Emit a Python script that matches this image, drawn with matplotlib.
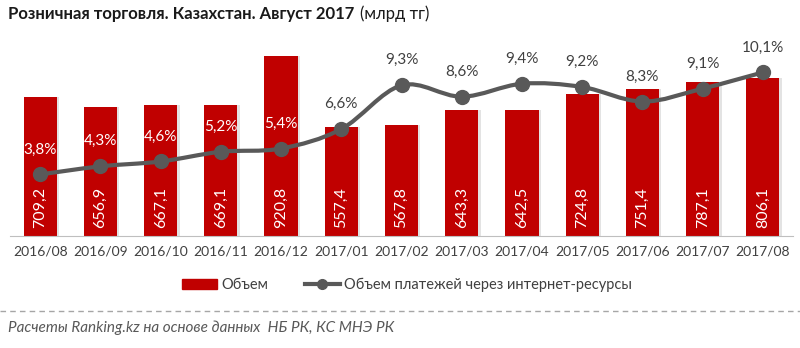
import numpy as np
import matplotlib
matplotlib.use("Agg")
import matplotlib.pyplot as plt
from matplotlib.path import Path
from matplotlib.patches import PathPatch, Patch
from matplotlib.lines import Line2D

plt.rcParams['font.family'] = ['Lato', 'DejaVu Sans']

months = ['2016/08', '2016/09', '2016/10', '2016/11', '2016/12', '2017/01', '2017/02',
          '2017/03', '2017/04', '2017/05', '2017/06', '2017/07', '2017/08']
volume = [709.2, 656.9, 667.1, 669.1, 920.8, 557.4, 567.8, 643.3, 642.5, 724.8, 751.4, 787.1, 806.1]
online_share = [3.8, 4.3, 4.6, 5.2, 5.4, 6.6, 9.3, 8.6, 9.4, 9.2, 8.3, 9.1, 10.1]

RED = '#C00000'
GREY = '#595959'
TEXT = '#404040'


def fmt(v):
    return f'{v:.1f}'.replace('.', ',')


def smooth_path(xs, ys):
    # cubic bezier through every point (catmull-rom style tangents)
    pts = np.column_stack([xs, ys]).astype(float)
    n = len(pts)
    verts = [pts[0]]
    codes = [Path.MOVETO]
    for i in range(n - 1):
        p0 = pts[max(i - 1, 0)]
        p1 = pts[i]
        p2 = pts[i + 1]
        p3 = pts[min(i + 2, n - 1)]
        c1 = p1 + (p2 - p0) / 6.0
        c2 = p2 - (p3 - p1) / 6.0
        verts += [c1, c2, p2]
        codes += [Path.CURVE4] * 3
    return Path(verts, codes)


fig = plt.figure(figsize=(8, 3.48), dpi=100)
W, H = 800, 348
ax = fig.add_axes([10 / W, 1 - 236 / H, 783 / W, 196 / H])
ax2 = ax.twinx()

x = np.arange(len(months))
ax.bar(x + 0.04, volume, width=0.55, color='#e3e3e3', zorder=1)
ax.bar(x, volume, width=0.55, color=RED, zorder=2)
ax.set_xlim(-0.5, len(months) - 0.5)
ax.set_ylim(0, 1001)

for xi, v in zip(x, volume):
    ax.text(xi, 42, fmt(v), rotation=90, ha='center', va='bottom',
            color='white', fontsize=11.5, zorder=3)

ax.set_xticks(x)
ax.set_xticklabels(months, fontsize=10, color=TEXT)
ax.tick_params(axis='x', length=0, pad=7)
ax.set_yticks([])
for side in ['top', 'right', 'left']:
    ax.spines[side].set_visible(False)
    ax2.spines[side].set_visible(False)
ax.spines['bottom'].set_color('#bfbfbf')
ax2.spines['bottom'].set_visible(False)

ax2.set_ylim(0, 12.1)
ax2.set_yticks([])
ax2.add_patch(PathPatch(smooth_path(x, online_share), facecolor='none',
                        edgecolor=GREY, lw=3, zorder=4))
ax2.plot(x, online_share, 'o', color=GREY, ms=10, zorder=5)

for i, (xi, v) in enumerate(zip(x, online_share)):
    col = 'white' if i < 5 else TEXT
    ax2.annotate(f'{fmt(v)}%', (xi, v), xytext=(0, 18), textcoords='offset points',
                 ha='center', va='center', fontsize=11, color=col, zorder=6)

# title: bold part, then the units in regular weight right after it
title = fig.text(8 / W, 1 - 14 / H, 'Розничная торговля. Казахстан. Август 2017',
                 fontsize=12, fontweight='bold', color='#1a1a1a', va='center')
fig.canvas.draw()
bb = title.get_window_extent()
fig.text(bb.x1 / W + 6 / W, 1 - 14 / H, '(млрд тг)', fontsize=12,
         color='#1a1a1a', va='center')

handles = [Patch(color=RED),
           Line2D([], [], color=GREY, lw=3, marker='o', ms=7)]
fig.legend(handles, ['Объем', 'Объем платежей через интернет-ресурсы'],
           loc='center', bbox_to_anchor=(407 / W, 1 - 285 / H), ncol=2,
           frameon=False, fontsize=10.5, handlelength=2.4, handletextpad=0.3,
           columnspacing=2.5, labelcolor=TEXT)

fig.add_artist(Line2D([0, 1], [1 - 311 / H] * 2, color='#a6a6a6', lw=1,
                      ls=(0, (4, 3)), transform=fig.transFigure))
fig.text(8 / W, 1 - 328 / H, 'Расчеты Ranking.kz на основе данных  НБ РК, КС МНЭ РК',
         fontsize=11, style='italic', color='#595959', va='center')

fig.savefig('out.png', dpi=100)
